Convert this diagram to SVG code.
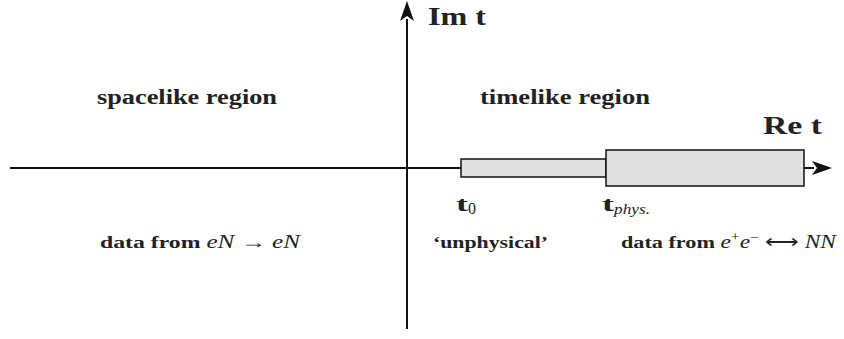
<svg xmlns="http://www.w3.org/2000/svg" width="844" height="339" viewBox="0 0 844 339">
<defs>
<marker id="ah" viewBox="0 0 20 14" refX="2" refY="7" markerWidth="20" markerHeight="14" markerUnits="userSpaceOnUse" orient="auto">
<path d="M0,0 L20,7 L0,14 L5,7 Z" fill="#111"/>
</marker>
</defs>
<style>
.ax{stroke:#111;stroke-width:2;fill:none}
.bx{fill:#e0e0e0;stroke:#111;stroke-width:1.5}
.b{font-family:"Liberation Serif",serif;font-weight:bold;fill:#222}
.m{font-family:"Liberation Serif",serif;font-style:italic;font-weight:normal}
.r{font-family:"Liberation Serif",serif;font-weight:normal}
</style>
<g id="connectors">
<line class="ax" x1="10" y1="168" x2="814" y2="168" marker-end="url(#ah)"/>
<line class="ax" x1="407" y1="329" x2="407" y2="19" marker-end="url(#ah)"/>
</g>
<g id="box-unphysical"><rect class="bx" x="461" y="159" width="145" height="18"/></g>
<g id="box-physical"><rect class="bx" x="606" y="150" width="198" height="36"/></g>
<g id="label-im"><text class="b" x="428" y="25" font-size="25" textLength="58" lengthAdjust="spacingAndGlyphs">Im t</text></g>
<g id="label-re"><text class="b" x="763" y="134" font-size="26" textLength="59" lengthAdjust="spacingAndGlyphs">Re t</text></g>
<g id="label-spacelike"><text class="b" x="97" y="104" font-size="20" textLength="180" lengthAdjust="spacingAndGlyphs">spacelike region</text></g>
<g id="label-timelike"><text class="b" x="480" y="104" font-size="20" textLength="170" lengthAdjust="spacingAndGlyphs">timelike region</text></g>
<g id="label-t0"><text class="b" x="456" y="211" font-size="22" textLength="12" lengthAdjust="spacingAndGlyphs">t</text><text class="r" x="468" y="214" font-size="16" fill="#222">0</text></g>
<g id="label-tphys"><text class="b" x="602" y="211" font-size="22" textLength="12" lengthAdjust="spacingAndGlyphs">t</text><text class="m" x="614" y="214" font-size="15" fill="#222" textLength="36" lengthAdjust="spacingAndGlyphs">phys.</text></g>
<g id="label-data-eN"><text class="b" x="100" y="248" font-size="17" textLength="200" lengthAdjust="spacingAndGlyphs">data from <tspan class="m" font-size="18">eN</tspan><tspan class="r" font-size="18"> → </tspan><tspan class="m" font-size="18">eN</tspan></text></g>
<g id="label-unphysical"><text class="b" x="433" y="248" font-size="17" textLength="115" lengthAdjust="spacingAndGlyphs">‘unphysical’</text></g>
<g id="label-data-ee"><text class="b" x="621" y="248" font-size="17" textLength="215" lengthAdjust="spacingAndGlyphs">data from <tspan class="m" font-size="18">e</tspan><tspan class="r" font-size="12" dy="-7">+</tspan><tspan class="m" font-size="18" dy="7">e</tspan><tspan class="r" font-size="12" dy="-7">−</tspan><tspan class="r" font-size="18" dy="7"> ⟷ </tspan><tspan class="m" font-size="18">NN</tspan></text></g>
</svg>
